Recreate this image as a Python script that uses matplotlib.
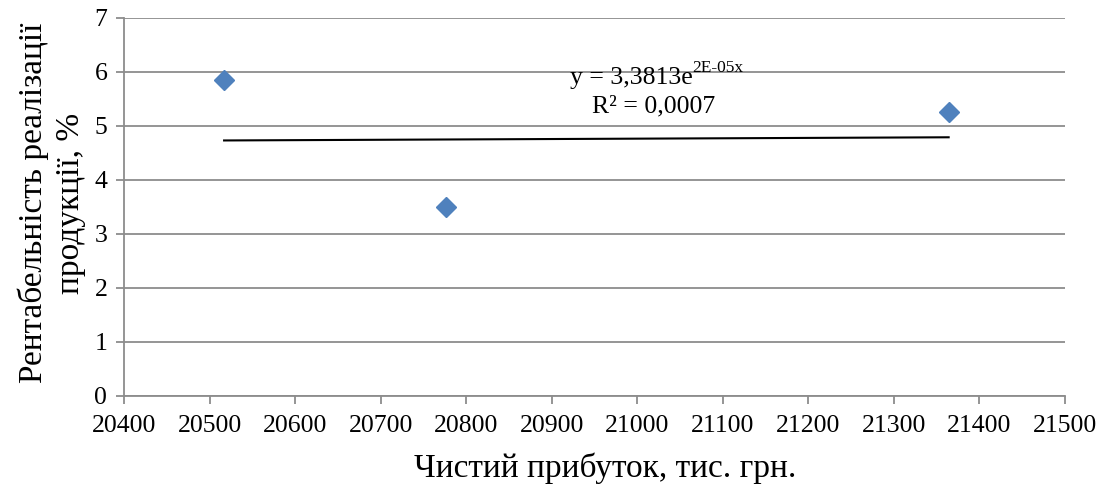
import numpy as np
import matplotlib
matplotlib.use("Agg")
import matplotlib.pyplot as plt

# Data
net_profit = [20517, 20776, 21364]
profitability = [5.85, 3.50, 5.26]
x_ticks = [20400, 20500, 20600, 20700, 20800, 20900, 21000, 21100, 21200, 21300, 21400, 21500]
y_ticks = [0, 1, 2, 3, 4, 5, 6, 7]
eq_base = "y = 3,3813e"
eq_exp = "2E-05x"
r2_text = "R² = 0,0007"
x_label = "Чистий прибуток, тис. грн."
y_label = "Рентабельність реалізації\nпродукції, %"

plt.rcParams['font.family'] = ['Liberation Serif', 'DejaVu Serif']

fig = plt.figure(figsize=(11.02, 4.88), dpi=100)
ax = fig.add_axes([124/1102, 1-396/488, (1065-124)/1102, (396-18)/488])

ax.set_xlim(20400, 21500)
ax.set_ylim(0, 7)
ax.set_xticks(x_ticks)
ax.set_yticks(y_ticks)
ax.grid(axis='y', color='#8c8c8c', linewidth=1.3)
ax.set_axisbelow(True)
for s in ['top', 'right']:
    ax.spines[s].set_visible(False)
for s in ['left', 'bottom']:
    ax.spines[s].set_color('#8c8c8c')
    ax.spines[s].set_linewidth(1.3)
ax.tick_params(axis='both', colors='#8c8c8c', length=6, width=1.3, labelsize=18.5,
               labelcolor='black', direction='out')
ax.tick_params(axis='x', pad=8)
ax.tick_params(axis='y', pad=6)

# exponential trendline
xa = np.array(net_profit, float)
ya = np.array(profitability, float)
b, a = np.polyfit(xa, np.log(ya), 1)
xt = np.linspace(xa.min(), xa.max(), 100)
ax.plot(xt, np.exp(a + b * xt), color='black', linewidth=1.5, zorder=2)

ax.plot(net_profit, profitability, linestyle='none', marker='D', markersize=10.5,
        color='#4F81BD', zorder=3)

# Equation text
ax.text(0.604, 0.825, eq_base, transform=ax.transAxes, fontsize=18.5,
        ha='right', va='baseline')
ax.text(0.604, 0.856, eq_exp, transform=ax.transAxes, fontsize=12.5,
        ha='left', va='baseline')
ax.text(0.563, 0.751, r2_text, transform=ax.transAxes, fontsize=18.5,
        ha='center', va='baseline')

ax.set_xlabel(x_label, fontsize=24)
ax.xaxis.set_label_coords(0.511, -0.150)
ax.set_ylabel(y_label, fontsize=24, linespacing=1.3)
ax.yaxis.set_label_coords(-0.040, 0.51)

fig.savefig("out.png", dpi=100)
